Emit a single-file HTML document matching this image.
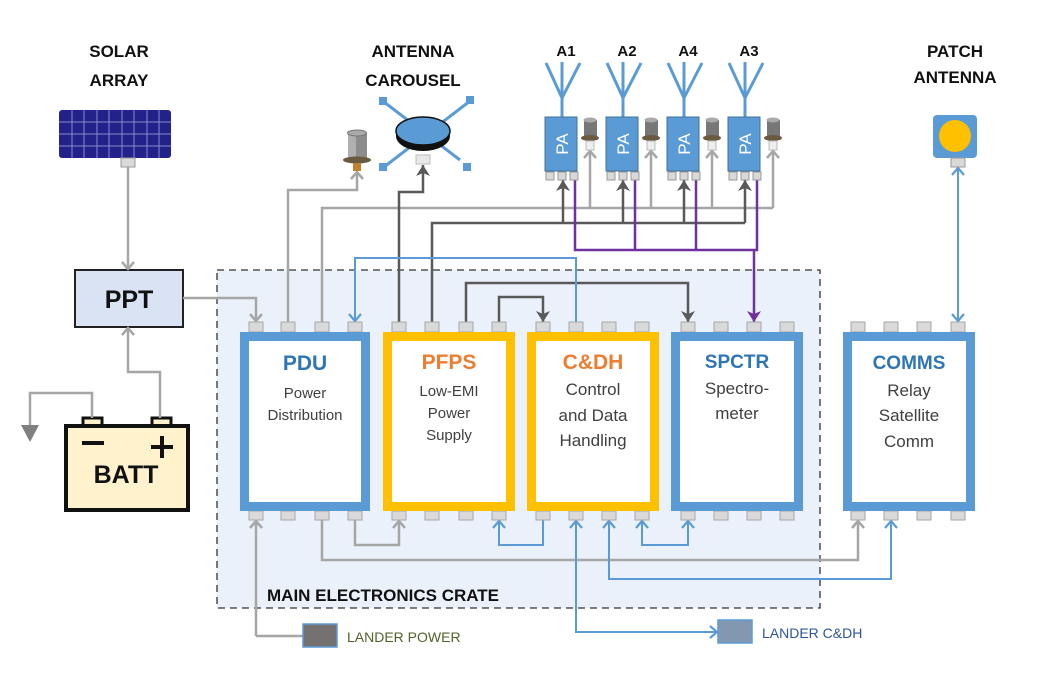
<!DOCTYPE html>
<html><head><meta charset="utf-8"><style>
html,body{margin:0;padding:0;background:#fff;}
svg{display:block;font-family:"Liberation Sans",sans-serif;}
</style></head><body>
<svg width="1039" height="696" viewBox="0 0 1039 696" xmlns="http://www.w3.org/2000/svg">
<defs>
<marker id="ag" markerWidth="14" markerHeight="14" refX="12" refY="7" orient="auto" markerUnits="userSpaceOnUse" viewBox="0 0 14 14"><polyline points="5,1 12,7 5,13" fill="none" stroke="#a6a6a6" stroke-width="2.5"/></marker>
<marker id="ad" markerWidth="14" markerHeight="14" refX="13" refY="7" orient="auto" markerUnits="userSpaceOnUse" viewBox="0 0 14 14"><polygon points="2,0 13,7 2,14 5,7" fill="#595959"/></marker>
<marker id="ab" markerWidth="14" markerHeight="14" refX="12" refY="7" orient="auto" markerUnits="userSpaceOnUse" viewBox="0 0 14 14"><polyline points="5,1 12,7 5,13" fill="none" stroke="#5b9bd5" stroke-width="2.2"/></marker>
<marker id="ap" markerWidth="14" markerHeight="14" refX="13" refY="7" orient="auto" markerUnits="userSpaceOnUse" viewBox="0 0 14 14"><polygon points="2,0 13,7 2,14 5,7" fill="#7030a0"/></marker>
</defs>

<!-- crate -->
<rect x="217" y="270" width="603" height="338" fill="#eaf1fa" stroke="#333" stroke-width="1.3" stroke-dasharray="7,5"/>
<text x="267" y="601" font-size="17" font-weight="bold" fill="#111">MAIN ELECTRONICS CRATE</text>

<!-- titles -->
<g font-size="17" font-weight="bold" fill="#111" text-anchor="middle">
<text x="119" y="57">SOLAR</text><text x="119" y="86">ARRAY</text>
<text x="413" y="57">ANTENNA</text><text x="413" y="86">CAROUSEL</text>
<text x="955" y="57">PATCH</text><text x="955" y="83">ANTENNA</text>
<text x="566" y="56" font-size="15">A1</text><text x="627" y="56" font-size="15">A2</text>
<text x="688" y="56" font-size="15">A4</text><text x="749" y="56" font-size="15">A3</text>
</g>

<!-- solar array -->
<rect x="59" y="110" width="112" height="48" rx="3" fill="#22228a"/>
<g stroke="#8a8ad0" stroke-width="1">
<line x1="59" y1="122" x2="171" y2="122"/><line x1="59" y1="134" x2="171" y2="134"/><line x1="59" y1="146" x2="171" y2="146"/>
<line x1="72" y1="110" x2="72" y2="158"/><line x1="84" y1="110" x2="84" y2="158"/><line x1="97" y1="110" x2="97" y2="158"/><line x1="109" y1="110" x2="109" y2="158"/><line x1="122" y1="110" x2="122" y2="158"/><line x1="134" y1="110" x2="134" y2="158"/><line x1="147" y1="110" x2="147" y2="158"/><line x1="159" y1="110" x2="159" y2="158"/>
</g>
<rect x="121" y="158" width="14" height="9" fill="#d9d9d9" stroke="#999"/>

<!-- PPT -->
<rect x="75" y="270" width="108" height="57" fill="#dae3f3" stroke="#222" stroke-width="2"/>
<text x="129" y="308" font-size="25" font-weight="900" text-anchor="middle" fill="#111">PPT</text>

<!-- battery -->
<rect x="83" y="418" width="19" height="10" fill="#fff2cc" stroke="#111" stroke-width="3"/>
<rect x="152" y="418" width="19" height="10" fill="#fff2cc" stroke="#111" stroke-width="3"/>
<rect x="66" y="426" width="122" height="84" fill="#fff2cc" stroke="#111" stroke-width="4"/>
<line x1="82" y1="443" x2="104" y2="443" stroke="#111" stroke-width="4"/>
<line x1="151" y1="447" x2="173" y2="447" stroke="#111" stroke-width="4"/><line x1="162" y1="436" x2="162" y2="458" stroke="#111" stroke-width="4"/>
<text x="126" y="483" font-size="25" font-weight="900" text-anchor="middle" fill="#111">BATT</text>
<polyline points="92,418 92,393 30,393 30,430" fill="none" stroke="#a6a6a6" stroke-width="2.5"/>
<polygon points="21,425 39,425 30,442" fill="#808080"/>

<!-- gray lines -->
<g fill="none" stroke="#a6a6a6" stroke-width="2.5">
<line x1="128" y1="167" x2="128" y2="269" marker-end="url(#ag)"/>
<polyline points="160,418 160,372 128,372 128,328" marker-end="url(#ag)"/>
<polyline points="183,298 256,298 256,321" marker-end="url(#ag)"/>
<polyline points="288,322 288,190 357,190 357,172" marker-end="url(#ag)"/>
<polyline points="322,322 322,208 773,208"/>
<line x1="590" y1="208" x2="590" y2="151" marker-end="url(#ag)"/>
<line x1="651" y1="208" x2="651" y2="151" marker-end="url(#ag)"/>
<line x1="712" y1="208" x2="712" y2="151" marker-end="url(#ag)"/>
<polyline points="773,208 773,151" marker-end="url(#ag)"/>
<polyline points="256,636 256,521" marker-end="url(#ag)"/>
<line x1="256" y1="636" x2="303" y2="636"/>
<polyline points="322,520 322,560 858,560 858,521" marker-end="url(#ag)"/>
<polyline points="355,520 355,545 399,545 399,521" marker-end="url(#ag)"/>
</g>

<!-- dark lines -->
<g fill="none" stroke="#595959" stroke-width="2.5">
<polyline points="399,322 399,192 423,192 423,165" marker-end="url(#ad)"/>
<polyline points="432,322 432,223 745,223"/>
<line x1="563" y1="223" x2="563" y2="180" marker-end="url(#ad)"/>
<line x1="623" y1="223" x2="623" y2="180" marker-end="url(#ad)"/>
<line x1="684" y1="223" x2="684" y2="180" marker-end="url(#ad)"/>
<line x1="745" y1="223" x2="745" y2="180" marker-end="url(#ad)"/>
<polyline points="466,322 466,283 688,283 688,322" marker-end="url(#ad)"/>
<polyline points="499,322 499,297 543,297 543,322" marker-end="url(#ad)"/>
</g>

<!-- purple -->
<g fill="none" stroke="#7030a0" stroke-width="2.5">
<polyline points="575,180 575,250 757,250 757,180"/>
<line x1="635" y1="180" x2="635" y2="250"/><line x1="696" y1="180" x2="696" y2="250"/>
<line x1="754" y1="250" x2="754" y2="322" marker-end="url(#ap)"/>
</g>

<!-- blue lines -->
<g fill="none" stroke="#5b9bd5" stroke-width="2">
<polyline points="576,322 576,258 355,258 355,321" marker-end="url(#ab)"/>
<line x1="958" y1="240" x2="958" y2="321" marker-end="url(#ab)"/>
<line x1="958" y1="240" x2="958" y2="168" marker-end="url(#ab)"/>
<polyline points="543,520 543,545 499,545 499,521" marker-end="url(#ab)"/>
<polyline points="576,600 576,521" marker-end="url(#ab)"/>
<polyline points="576,598 576,632 717,632" marker-end="url(#ab)"/>
<polyline points="609,540 609,521" marker-end="url(#ab)"/>
<polyline points="609,538 609,579 891,579 891,521" marker-end="url(#ab)"/>
<polyline points="665,545 642,545 642,521" marker-end="url(#ab)"/>
<polyline points="663,545 688,545 688,521" marker-end="url(#ab)"/>
</g>

<!-- lander boxes -->
<rect x="303" y="624" width="34" height="23" fill="#767171" stroke="#5b9bd5" stroke-width="1.5"/>
<text x="347" y="642" font-size="14" fill="#4f6228">LANDER POWER</text>
<rect x="718" y="620" width="34" height="23" fill="#8497b0" stroke="#5b9bd5" stroke-width="1.5"/>
<text x="762" y="638" font-size="14" fill="#2f5597">LANDER C&amp;DH</text>

<!-- can near carousel -->
<g>
<rect x="348" y="133" width="19" height="26" fill="#8c8c8c"/>
<rect x="348" y="133" width="8" height="26" fill="#b0b0b0"/>
<ellipse cx="357" cy="133" rx="9.5" ry="3" fill="#aaa" stroke="#777"/>
<ellipse cx="357" cy="160" rx="14" ry="3.5" fill="#6a5a40"/>
<rect x="353" y="163" width="8" height="8" fill="#c08030"/>
</g>

<!-- antenna carousel -->
<g stroke="#5b9bd5" stroke-width="3">
<line x1="384" y1="102" x2="460" y2="160"/><line x1="470" y1="101" x2="384" y2="167"/>
</g>
<g fill="#5b9bd5"><rect x="379" y="97" width="8" height="8"/><rect x="466" y="96" width="8" height="8"/><rect x="379" y="163" width="8" height="8"/><rect x="463" y="163" width="8" height="8"/></g>
<ellipse cx="423" cy="136" rx="27" ry="15" fill="#111"/>
<ellipse cx="423" cy="131" rx="27" ry="14" fill="#5b9bd5" stroke="#111" stroke-width="1.5"/>
<rect x="416" y="155" width="14" height="9" fill="#e8e8e8" stroke="#bbb"/>

<!-- PA units -->
<g id="pa">
<g stroke="#5b9bd5" stroke-width="3" fill="none">
<line x1="562" y1="62" x2="562" y2="117"/><polyline points="546,63 562,98 580,63"/>
</g>
<rect x="545" y="117" width="32" height="54" fill="#5b9bd5" stroke="#41719c"/>
<text x="0" y="0" transform="translate(568,144) rotate(-90)" font-size="17" fill="#fff" text-anchor="middle">PA</text>
<rect x="546" y="172" width="8" height="8" fill="#d9d9d9" stroke="#999"/>
<rect x="558" y="172" width="8" height="8" fill="#d9d9d9" stroke="#999"/>
<rect x="570" y="172" width="8" height="8" fill="#d9d9d9" stroke="#999"/>
<rect x="584" y="120" width="13" height="18" fill="#777"/>
<ellipse cx="590" cy="120" rx="6.5" ry="2.5" fill="#aaa"/>
<ellipse cx="590" cy="138" rx="9" ry="3" fill="#6a5a40"/>
<rect x="586" y="141" width="8" height="9" fill="#eee" stroke="#bbb"/>
</g>
<use href="#pa" x="61"/><use href="#pa" x="122"/><use href="#pa" x="183"/>

<!-- patch antenna -->
<rect x="933" y="115" width="44" height="43" rx="4" fill="#5b9bd5"/>
<circle cx="955" cy="136" r="16" fill="#ffc000"/>
<rect x="951" y="158" width="14" height="9" fill="#d9d9d9" stroke="#999"/>

<!-- module ports -->
<g fill="#d9d9d9" stroke="#a6a6a6" stroke-width="1">
<rect x="249" y="322" width="14" height="10"/><rect x="281" y="322" width="14" height="10"/><rect x="315" y="322" width="14" height="10"/><rect x="348" y="322" width="14" height="10"/>
<rect x="392" y="322" width="14" height="10"/><rect x="425" y="322" width="14" height="10"/><rect x="459" y="322" width="14" height="10"/><rect x="492" y="322" width="14" height="10"/>
<rect x="536" y="322" width="14" height="10"/><rect x="569" y="322" width="14" height="10"/><rect x="602" y="322" width="14" height="10"/><rect x="635" y="322" width="14" height="10"/>
<rect x="681" y="322" width="14" height="10"/><rect x="714" y="322" width="14" height="10"/><rect x="747" y="322" width="14" height="10"/><rect x="780" y="322" width="14" height="10"/>
<rect x="851" y="322" width="14" height="10"/><rect x="884" y="322" width="14" height="10"/><rect x="917" y="322" width="14" height="10"/><rect x="951" y="322" width="14" height="10"/>
<rect x="249" y="511" width="14" height="9"/><rect x="281" y="511" width="14" height="9"/><rect x="315" y="511" width="14" height="9"/><rect x="348" y="511" width="14" height="9"/>
<rect x="392" y="511" width="14" height="9"/><rect x="425" y="511" width="14" height="9"/><rect x="459" y="511" width="14" height="9"/><rect x="492" y="511" width="14" height="9"/>
<rect x="536" y="511" width="14" height="9"/><rect x="569" y="511" width="14" height="9"/><rect x="602" y="511" width="14" height="9"/><rect x="635" y="511" width="14" height="9"/>
<rect x="681" y="511" width="14" height="9"/><rect x="714" y="511" width="14" height="9"/><rect x="747" y="511" width="14" height="9"/><rect x="780" y="511" width="14" height="9"/>
<rect x="851" y="511" width="14" height="9"/><rect x="884" y="511" width="14" height="9"/><rect x="917" y="511" width="14" height="9"/><rect x="951" y="511" width="14" height="9"/>
</g>

<!-- modules -->
<g stroke-width="9">
<rect x="244.5" y="336.5" width="121" height="170" fill="#fff" stroke="#5b9bd5"/>
<rect x="387.5" y="336.5" width="123" height="170" fill="#fff" stroke="#ffc000"/>
<rect x="531.5" y="336.5" width="123" height="170" fill="#fff" stroke="#ffc000"/>
<rect x="675.5" y="336.5" width="123" height="170" fill="#fff" stroke="#5b9bd5"/>
<rect x="847.5" y="336.5" width="123" height="170" fill="#fff" stroke="#5b9bd5"/>
</g>
<g text-anchor="middle" fill="#404040" font-size="15">
<text x="305" y="370" font-size="21" font-weight="900" fill="#2e75b6">PDU</text>
<text x="305" y="398">Power</text><text x="305" y="420">Distribution</text>
<text x="449" y="369" font-size="21" font-weight="900" fill="#ed7d31">PFPS</text>
<text x="449" y="396">Low-EMI</text><text x="449" y="418">Power</text><text x="449" y="440">Supply</text>
<text x="593" y="369" font-size="21" font-weight="900" fill="#ed7d31">C&amp;DH</text>
<text x="593" y="395" font-size="17">Control</text><text x="593" y="421" font-size="17">and Data</text><text x="593" y="446" font-size="17">Handling</text>
<text x="737" y="368" font-size="19" font-weight="900" fill="#2e75b6">SPCTR</text>
<text x="737" y="394" font-size="17">Spectro-</text><text x="737" y="419" font-size="17">meter</text>
<text x="909" y="369" font-size="19" font-weight="900" fill="#2e75b6">COMMS</text>
<text x="909" y="396" font-size="17">Relay</text><text x="909" y="421" font-size="17">Satellite</text><text x="909" y="447" font-size="17">Comm</text>
</g>
</svg>
</body></html>
